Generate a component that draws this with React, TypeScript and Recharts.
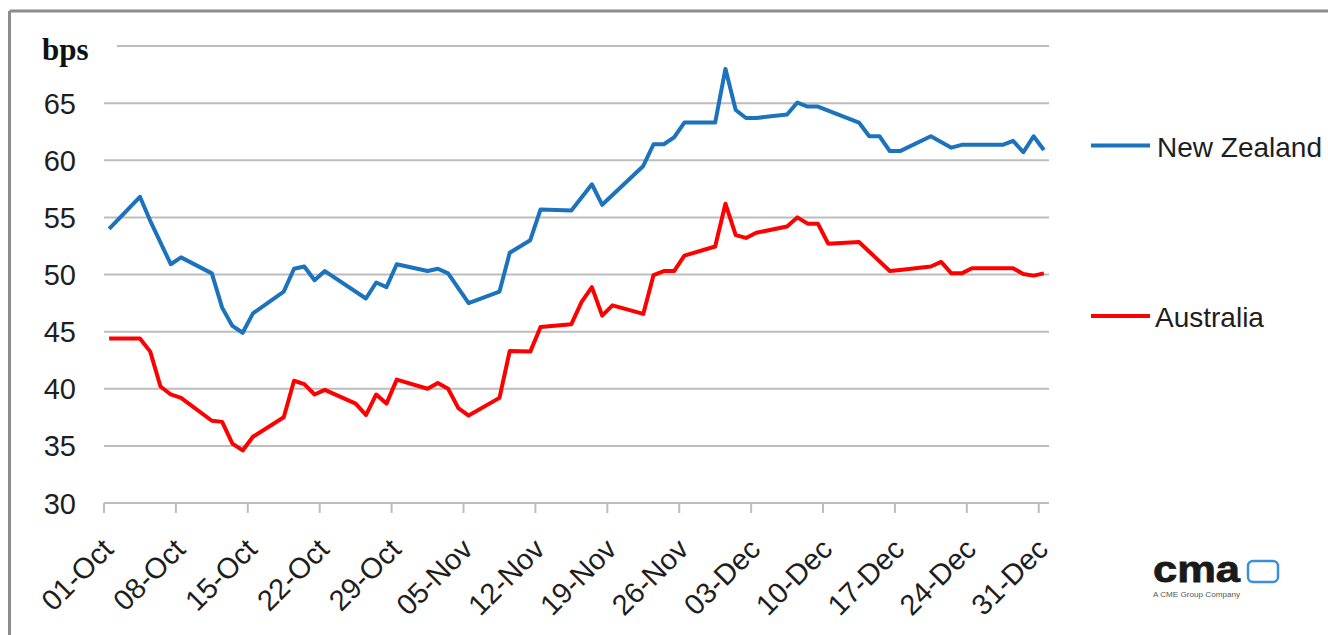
import React from 'react';
import { LineChart, Line, XAxis, YAxis, CartesianGrid } from 'recharts';

// ---- data ----
const tickLabels = ['01-Oct', '08-Oct', '15-Oct', '22-Oct', '29-Oct', '05-Nov', '12-Nov', '19-Nov', '26-Nov', '03-Dec', '10-Dec', '17-Dec', '24-Dec', '31-Dec'];
const yTicks = [30, 35, 40, 45, 50, 55, 60, 65, 70];

const nzDates = ['01-Oct', '04-Oct', '05-Oct', '07-Oct', '08-Oct', '11-Oct', '12-Oct', '13-Oct', '14-Oct', '15-Oct', '18-Oct', '19-Oct', '20-Oct', '21-Oct', '22-Oct', '26-Oct', '27-Oct', '28-Oct', '29-Oct', '01-Nov', '02-Nov', '03-Nov', '05-Nov', '08-Nov', '09-Nov', '11-Nov', '12-Nov', '15-Nov', '17-Nov', '18-Nov', '22-Nov', '23-Nov', '24-Nov', '25-Nov', '26-Nov', '29-Nov', '30-Nov', '01-Dec', '02-Dec', '03-Dec', '06-Dec', '07-Dec', '08-Dec', '09-Dec', '13-Dec', '14-Dec', '15-Dec', '16-Dec', '17-Dec', '20-Dec', '22-Dec', '23-Dec', '27-Dec', '28-Dec', '29-Dec', '30-Dec', '31-Dec'];
const nzValues = [54.0, 56.8, 54.7, 50.9, 51.5, 50.1, 47.1, 45.5, 44.9, 46.6, 48.5, 50.5, 50.7, 49.5, 50.3, 47.9, 49.3, 48.9, 50.9, 50.3, 50.5, 50.1, 47.5, 48.5, 51.9, 53.0, 55.7, 55.6, 57.9, 56.1, 59.5, 61.4, 61.4, 62.0, 63.3, 63.3, 68.0, 64.4, 63.7, 63.7, 64.0, 65.05, 64.7, 64.7, 63.3, 62.1, 62.1, 60.8, 60.8, 62.1, 61.1, 61.35, 61.35, 61.7, 60.7, 62.1, 60.9];

const auDates = ['01-Oct', '04-Oct', '05-Oct', '06-Oct', '07-Oct', '08-Oct', '11-Oct', '12-Oct', '13-Oct', '14-Oct', '15-Oct', '18-Oct', '19-Oct', '20-Oct', '21-Oct', '22-Oct', '25-Oct', '26-Oct', '27-Oct', '28-Oct', '29-Oct', '01-Nov', '02-Nov', '03-Nov', '04-Nov', '05-Nov', '08-Nov', '09-Nov', '11-Nov', '12-Nov', '15-Nov', '16-Nov', '17-Nov', '18-Nov', '19-Nov', '22-Nov', '23-Nov', '24-Nov', '25-Nov', '26-Nov', '29-Nov', '30-Nov', '01-Dec', '02-Dec', '03-Dec', '06-Dec', '07-Dec', '08-Dec', '09-Dec', '10-Dec', '13-Dec', '16-Dec', '17-Dec', '20-Dec', '21-Dec', '22-Dec', '23-Dec', '24-Dec', '28-Dec', '29-Dec', '30-Dec', '31-Dec'];
const auValues = [44.4, 44.4, 43.25, 40.2, 39.5, 39.2, 37.2, 37.1, 35.2, 34.6, 35.8, 37.5, 40.7, 40.4, 39.5, 39.9, 38.7, 37.7, 39.5, 38.7, 40.8, 40.0, 40.5, 40.0, 38.3, 37.65, 39.2, 43.3, 43.25, 45.4, 45.65, 47.6, 48.9, 46.4, 47.3, 46.55, 49.95, 50.3, 50.3, 51.65, 52.45, 56.2, 53.45, 53.2, 53.65, 54.2, 55.0, 54.45, 54.45, 52.7, 52.85, 50.3, 50.4, 50.7, 51.1, 50.1, 50.1, 50.55, 50.55, 50.05, 49.9, 50.1];

const monthOffset: Record<string, number> = { Oct: 0, Nov: 31, Dec: 61 };
const dayIndex = (label: string) => {
  const [dd, mon] = label.split('-');
  return monthOffset[mon] + Number(dd) - 1;
};

const nzData = nzDates.map((d, i) => ({ x: dayIndex(d) + 0.5, v: nzValues[i] }));
const auData = auDates.map((d, i) => ({ x: dayIndex(d) + 0.5, v: auValues[i] }));
const xTicks = tickLabels.map(dayIndex);
const labelByDay: Record<number, string> = {};
tickLabels.forEach((l) => { labelByDay[dayIndex(l)] = l; });

const BLUE = '#1b72bd';
const RED = '#ff0000';
const GRID = '#bdbdbd';
const TEXT = '#1e1e1e';
const FONT = '"Liberation Sans", Arial, sans-serif';

const XTick = (props: any) => {
  const { x, y, payload } = props;
  return (
    <g transform={`translate(${x + 11},${y + 38})`}>
      <text transform="rotate(-45)" textAnchor="end" fontSize={29} fontFamily={FONT} fill={TEXT}>
        {labelByDay[payload.value]}
      </text>
    </g>
  );
};

const YTick = (props: any) => {
  const { y, payload } = props;
  if (payload.value === 70) return null;
  return (
    <text x={76} y={y + 10.5} textAnchor="end" fontSize={29} fontFamily={FONT} fill={TEXT}>
      {payload.value}
    </text>
  );
};

export default function App() {
  return (
    <div style={{ position: 'absolute', left: 0, top: 0, width: 1328, height: 635, background: '#fff', overflow: 'hidden' }}>
      <LineChart width={1328} height={635} margin={{ top: 46, right: 279, bottom: 0, left: 0 }}>
        <CartesianGrid horizontal vertical={false} stroke={GRID} strokeWidth={2} />
        <XAxis
          dataKey="x"
          type="number"
          domain={[0, 92]}
          ticks={xTicks}
          interval={0}
          height={132}
          axisLine={{ stroke: GRID, strokeWidth: 2 }}
          tickLine={{ stroke: GRID, strokeWidth: 2 }}
          tickSize={10}
          tickMargin={0}
          tick={<XTick />}
          allowDuplicatedCategory={false}
        />
        <YAxis
          type="number"
          domain={[30, 70]}
          ticks={yTicks}
          interval={0}
          width={104}
          axisLine={false}
          tickLine={false}
          tick={<YTick />}
        />
        <Line data={nzData} dataKey="v" name="New Zealand" type="linear" stroke={BLUE} strokeWidth={4} dot={false} activeDot={false} strokeLinejoin="round" isAnimationActive={false} />
        <Line data={auData} dataKey="v" name="Australia" type="linear" stroke={RED} strokeWidth={4} dot={false} activeDot={false} strokeLinejoin="round" isAnimationActive={false} />
      </LineChart>
      <svg width={1328} height={635} style={{ position: 'absolute', left: 0, top: 0, pointerEvents: 'none' }}>
        {/* frame */}
        <line x1={9.5} y1={11} x2={1328} y2={11} stroke="#8c8c8c" strokeWidth={3} />
        <line x1={9.5} y1={11} x2={9.5} y2={635} stroke="#8c8c8c" strokeWidth={3} />
        {/* unit label box */}
        <rect x={36} y={30} width={81} height={36} fill="#fff" />
        <text x={42} y={59.5} fontSize={31} fontWeight="bold" fontFamily='"Liberation Serif", "Times New Roman", serif' fill="#111">bps</text>
        {/* legend */}
        <line x1={1091} y1={145.5} x2={1150} y2={145.5} stroke={BLUE} strokeWidth={4} />
        <text x={1157} y={156.5} fontSize={28} fontFamily={FONT} fill={TEXT}>New Zealand</text>
        <line x1={1091} y1={316} x2={1150} y2={316} stroke={RED} strokeWidth={4} />
        <text x={1155} y={327} fontSize={28} fontFamily={FONT} fill={TEXT}>Australia</text>
        {/* logo */}
        <text x={1153} y={582} fontSize={36} fontWeight="bold" fontFamily={FONT} fill="#1a1a1a" stroke="#1a1a1a" strokeWidth={0.8} textLength={87} lengthAdjust="spacingAndGlyphs">cma</text>
        <rect x={1248} y={561} width={30} height={21} rx={5} fill="none" stroke="#3b8fd9" strokeWidth={2.5} />
        <text x={1153} y={597} fontSize={7} fontFamily={FONT} fill="#555" textLength={87} lengthAdjust="spacingAndGlyphs">A CME Group Company</text>
      </svg>
    </div>
  );
}
